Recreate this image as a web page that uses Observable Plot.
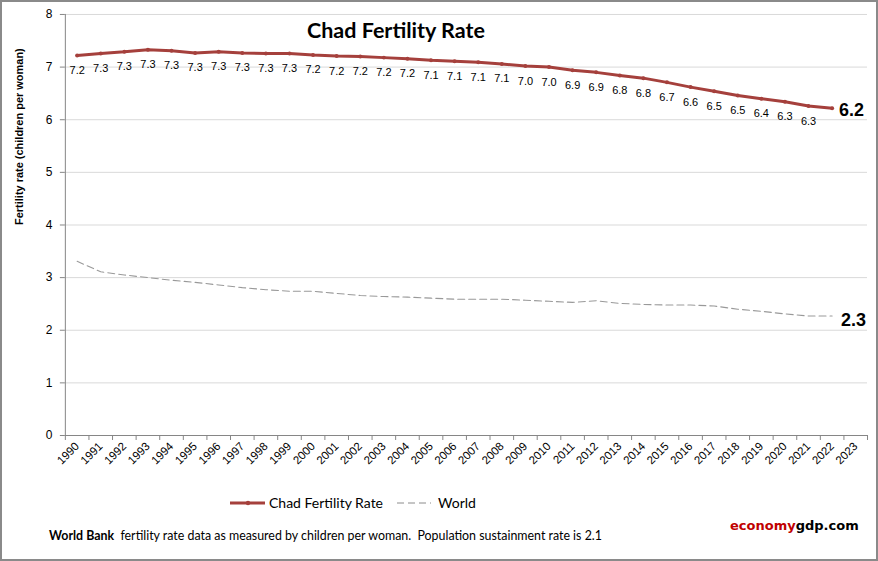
<!DOCTYPE html>
<html>
<head>
<meta charset="utf-8">
<script src="https://cdn.jsdelivr.net/npm/d3@7"></script>
<script src="https://cdn.jsdelivr.net/npm/@observablehq/plot@0.6"></script>
<style>
  html, body { margin: 0; padding: 0; background: #fff; }
  #wrap { position: relative; width: 878px; height: 561px; box-sizing: border-box; border: 2px solid #8a8a8a; overflow: hidden; background: #fff; }
  #chart { position: absolute; left: -2px; top: -2px; }
  .title { position: absolute; left: 305px; top: 15px; font: bold 21.5px Lato, "Open Sans", sans-serif; color: #000; }
  .legend { position: absolute; top: 492px; left: 226px; display: flex; align-items: center; font: 14px Lato, sans-serif; color: #000; }
  .legend svg { display: block; }
  .foot { position: absolute; left: 47px; top: 526px; font: 12.4px Lato, sans-serif; color: #000; }
  .brand { position: absolute; left: 728px; top: 516px; font: bold 13px "DejaVu Sans", sans-serif; }
</style>
</head>
<body>
<div id="wrap">
  <div id="chart"></div>
  <div class="title">Chad Fertility Rate</div>
  <div class="legend">
    <svg width="38" height="12"><line x1="2" y1="6" x2="37" y2="6" stroke="#a5403c" stroke-width="3"/><circle cx="20" cy="6" r="2.2" fill="#a5403c"/></svg>
    <span style="margin-left:3px">Chad Fertility Rate</span>
    <svg width="40" height="12" style="margin-left:12px"><line x1="2" y1="6" x2="36" y2="6" stroke="#8c8c8c" stroke-width="1" stroke-dasharray="7,4"/></svg>
    <span style="margin-left:3px">World</span>
  </div>
  <div class="foot"><b>World Bank</b>&nbsp; fertility rate data as measured by children per woman.&nbsp; Population sustainment rate is 2.1</div>
  <div class="brand"><span style="color:#c00000">economy</span><span style="color:#000">gdp.com</span></div>
</div>
<script>
const years = d3.range(1990, 2024);
const chadYears = d3.range(1990, 2023);
const chad = [7.22, 7.26, 7.29, 7.33, 7.31, 7.27, 7.29, 7.27, 7.26, 7.26, 7.23, 7.21, 7.20, 7.18, 7.16, 7.13, 7.11, 7.09, 7.06, 7.02, 7.00, 6.94, 6.90, 6.84, 6.79, 6.71, 6.62, 6.54, 6.46, 6.40, 6.34, 6.26, 6.22];
const world = [3.31, 3.11, 3.05, 3.00, 2.95, 2.91, 2.86, 2.81, 2.77, 2.74, 2.74, 2.70, 2.66, 2.64, 2.63, 2.61, 2.59, 2.59, 2.59, 2.57, 2.55, 2.53, 2.56, 2.51, 2.49, 2.48, 2.48, 2.46, 2.40, 2.36, 2.31, 2.27, 2.27];
const yTicks = [0, 1, 2, 3, 4, 5, 6, 7, 8];

const chadData = chadYears.map((y, i) => ({year: y, value: chad[i]}));
const worldData = chadYears.map((y, i) => ({year: y, value: world[i]}));
const chadLast = chadData[chadData.length - 1];
const worldLast = worldData[worldData.length - 1];
const red = "#a5403c";

const plot = Plot.plot({
  width: 878,
  height: 492,
  marginLeft: 65,
  marginRight: 9,
  marginTop: 14,
  marginBottom: 56,
  style: {fontFamily: "'Liberation Sans', Arial, sans-serif", fontSize: "11px", color: "#000", background: "transparent"},
  x: {domain: [1989.5, 2023.5], axis: null},
  y: {domain: [0, 8], axis: null},
  marks: [
    Plot.gridY(yTicks, {stroke: "#d9d9d9", strokeOpacity: 1}),
    Plot.ruleX([1989.5], {stroke: "#868686"}),
    Plot.ruleY([0], {stroke: "#868686"}),
    Plot.axisY(yTicks, {tickSize: 5, tickPadding: 8, stroke: "#868686", fontSize: 12, tickFormat: d => String(d),
      label: null}),
    Plot.text(["Fertility rate (children per woman)"], {frameAnchor: "left", dx: -46, rotate: -90, fontWeight: "bold", fontSize: 11, fill: "#000"}),
    Plot.axisX(d3.range(1989.5, 2024.5, 1), {tickSize: 5, stroke: "#868686", tickFormat: () => "", label: null}),
    Plot.axisX(years, {tickSize: 0, tickRotate: -45, tickPadding: 9, tickFormat: d => String(d), label: null, fontSize: 11.5}),
    Plot.line(worldData, {x: "year", y: "value", stroke: "#999999", strokeWidth: 1.1, strokeDasharray: "7,4"}),
    Plot.line(chadData, {x: "year", y: "value", stroke: red, strokeWidth: 3}),
    Plot.dot(chadData, {x: "year", y: "value", r: 2, fill: red}),
    Plot.text(chadData.slice(0, -1), {x: "year", y: "value", text: d => d.value.toFixed(1), dy: 15, fill: "#000", fontSize: 11}),
    Plot.text([chadLast], {x: "year", y: "value", text: d => d.value.toFixed(1), dx: 7, dy: 2, textAnchor: "start", fontSize: 18, fontWeight: "bold", fill: "#000"}),
    Plot.text([worldLast], {x: "year", y: "value", text: d => d.value.toFixed(1), dx: 9, dy: 4, textAnchor: "start", fontSize: 18, fontWeight: "bold", fill: "#000"})
  ]
});
document.getElementById("chart").appendChild(plot);
</script>
</body>
</html>
